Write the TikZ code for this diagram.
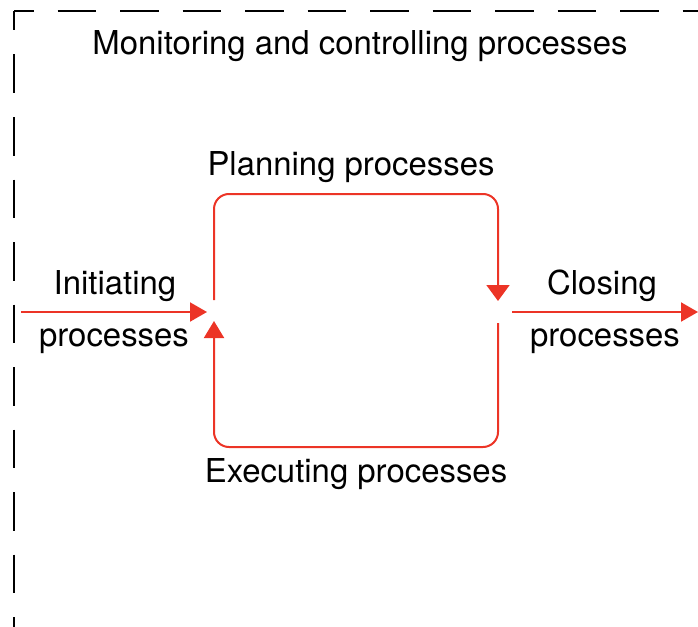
\documentclass[tikz,border=0pt]{standalone}
\usepackage{fontspec}
\setmainfont{TeX Gyre Heros}
\usetikzlibrary{arrows.meta}
\definecolor{flowred}{RGB}{236,52,38}
\begin{document}
\begin{tikzpicture}[x=1pt,y=-1pt,
  lbl/.style={anchor=base,inner sep=0pt,font=\fontsize{32.9}{38}\selectfont},
  frame/.style={line width=2pt,black,dash pattern=on 38.5pt off 24pt,dash phase=19pt},
  flow/.style={line width=2pt,flowred,-{Triangle[length=17pt,width=19pt]}},
  loop/.style={line width=2pt,flowred,rounded corners=15pt}]
\useasboundingbox (0,0) rectangle (698,626);
\clip (0,0) rectangle (698,626);
% dashed frame
\coordinate (corner) at (14,11);
\coordinate (frameR) at (760,11);
\coordinate (frameB) at (14,700);
\draw[frame] (corner) -- (frameR);
\draw[frame] (corner) -- (frameB);
% labels
\node[lbl] (mon) at (360,55) {Monitoring and controlling processes};
\node[lbl] (plan) at (351,175) {Planning processes};
\node[lbl] (exec) at (356,482) {Executing processes};
\node[lbl] (init1) at (115,294) {Initiating};
\node[lbl] (init2) at (114,346) {processes};
\node[lbl] (close1) at (602,294) {Closing};
\node[lbl] (close2) at (605,346) {processes};
% loop coordinates
\coordinate (tlStart) at (214,300);
\coordinate (tlCorner) at (214,194);
\coordinate (trCorner) at (498,194);
\coordinate (trEnd) at (498,301);
\coordinate (brStart) at (498,323);
\coordinate (brCorner) at (498,447);
\coordinate (blCorner) at (214,447);
\coordinate (blEnd) at (214,321);
\coordinate (inStart) at (21,312);
\coordinate (inEnd) at (207,312);
\coordinate (outStart) at (512,312);
\coordinate (outEnd) at (698,312);
% connectors
\draw[loop,-{Triangle[length=16pt,width=23pt]}] (tlStart) -- (tlCorner) -- (trCorner) -- (trEnd);
\draw[loop,-{Triangle[length=17pt,width=20pt]}] (brStart) -- (brCorner) -- (blCorner) -- (blEnd);
\draw[flow] (inStart) -- (inEnd);
\draw[flow] (outStart) -- (outEnd);
\end{tikzpicture}
\end{document}
